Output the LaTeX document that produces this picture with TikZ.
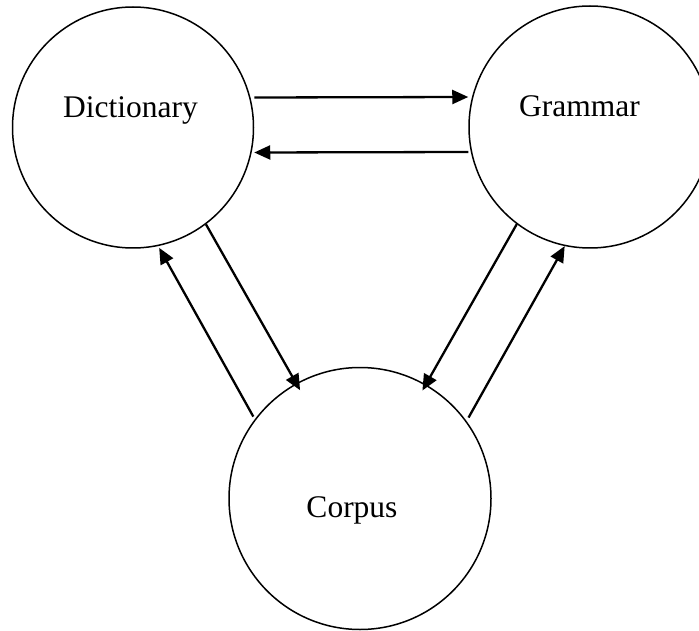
\documentclass[tikz,border=0pt]{standalone}
\usepackage{fontspec}
\setmainfont{Liberation Serif}
\usetikzlibrary{calc,arrows.meta}

\begin{document}
\begin{tikzpicture}[x=1pt, y=-1pt,
            >={Triangle[length=16pt,width=14pt]},
            topic/.style = {draw, circle, line width=1.5pt, inner sep=0pt},
            word/.style = {anchor=base, inner sep=0pt, font=\fontsize{31.5}{38}\selectfont},
            link/.style = {->, line width=2.3pt},
        ]
        \clip (0,0) rectangle (699,631);

        \node[topic, minimum size=241pt] (dict) at (133,127.5) {};
        \node[topic, minimum size=242pt] (gram) at (590,127) {};
        \node[topic, minimum size=262pt] (corp) at (360,498.5) {};

        \node[word] (dict-t) at ($(dict)+(-2.6,-10.2)$) {Dictionary};
        \node[word] (gram-t) at ($(gram)+(-10.5,-10)$) {Grammar};
        \node[word] (corp-t) at ($(corp)+(-8,18.5)$) {Corpus};

        \draw[link] ([yshift=30pt]dict.east) -- ([yshift=30pt]gram.west);
        \draw[link] ([yshift=-25pt]gram.west) -- ([yshift=-25pt]dict.east);
        \draw[link, shorten >=-8pt] (dict.-53) -- (corp.119);
        \draw[link, shorten <=3pt, shorten >=2pt] (corp.143) -- (dict.-78);
        \draw[link, shorten >=-7pt] (gram.-127) -- (corp.60);
        \draw[link, shorten <=4pt] (corp.36) -- (gram.-102);
    \end{tikzpicture}
\end{document}
